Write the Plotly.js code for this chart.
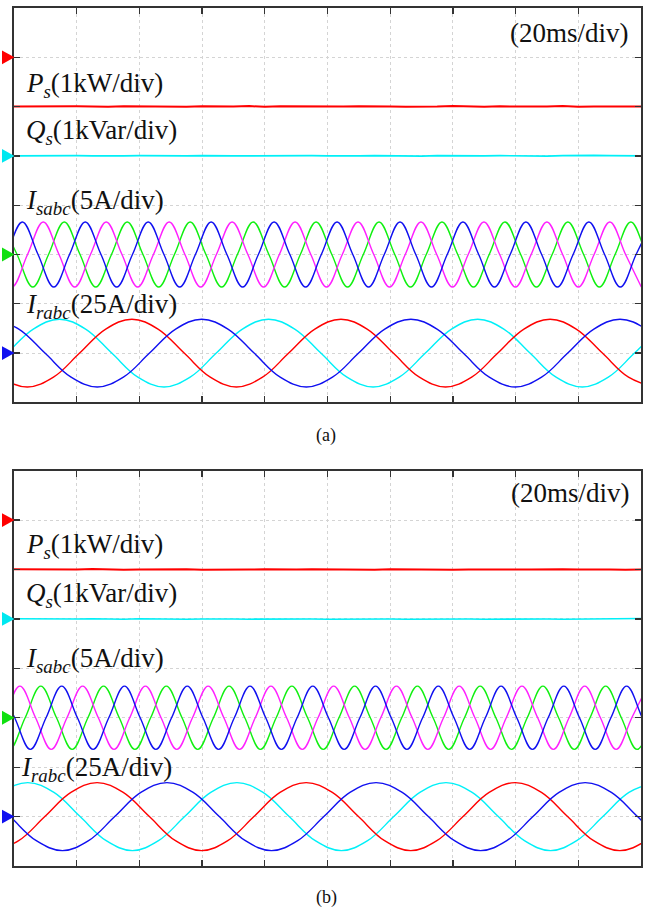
<!DOCTYPE html>
<html>
<head>
<meta charset="utf-8">
<script src="https://cdn.plot.ly/plotly-3.0.1.min.js"></script>
<style>html,body{margin:0;padding:0;background:#fff;}#chart{width:647px;height:909px;}</style>
</head>
<body>
<div id="chart"></div>
<script>
// ---------- data ----------
// time in ms (20 ms/div, 10 div)
const panels = ["(a)", "(b)"];
const timeDivTicks = 20;
// channel scales (units per division) and zero-reference levels (div from bottom)
const chScale = {Ps: 1, Qs: 1, Is: 5, Ir: 25};
const chRef = {Ps: 7, Qs: 5, Is: 3, Ir: 1};

// P_s (kW), Q_s (kVar) samples
const tPQ = [0,5,10,15,20,25,30,35,40,45,50,55,60,65,70,75,80,85,90,95,100,105,110,115,120,125,130,135,140,145,150,155,160,165,170,175,180,185,190,195,200];
const Ps_a = [-1.00,-0.995,-1.005,-1.00,-0.995,-1.00,-1.005,-0.995,-1.00,-0.99,-1.00,-1.005,-0.995,-1.00,-1.00,-0.99,-1.005,-0.995,-1.00,-0.995,-1.005,-1.00,-0.995,-0.99,-1.00,-1.005,-0.995,-1.00,-0.99,-1.00,-1.005,-0.995,-1.00,-0.995,-1.00,-0.99,-1.005,-1.00,-0.995,-1.00,-1.00];
const Qs_a = [0.00,0.005,-0.005,0.00,0.005,0.00,-0.005,0.00,0.005,0.00,-0.005,0.00,0.005,-0.005,0.00,0.00,0.005,-0.005,0.00,0.005,0.00,-0.005,0.00,0.005,0.00,0.00,-0.005,0.005,0.00,-0.005,0.00,0.005,0.00,0.00,-0.005,0.005,0.00,0.01,0.005,0.00,0.00];
const Ps_b = [-0.995,-1.00,-1.005,-0.995,-1.00,-0.99,-1.00,-1.005,-1.00,-0.995,-1.00,-0.995,-1.005,-1.00,-0.99,-1.00,-0.995,-1.005,-1.00,-0.995,-1.00,-0.99,-1.00,-1.005,-0.995,-1.00,-1.00,-0.995,-1.005,-1.00,-0.995,-0.99,-1.00,-1.00,-1.005,-0.995,-1.00,-0.995,-1.00,-1.005,-1.00];
const Qs_b = [0.005,0.00,-0.005,0.00,0.00,0.005,0.00,-0.005,0.005,0.00,0.00,-0.005,0.00,0.005,0.00,-0.005,0.00,0.00,0.005,0.00,-0.005,0.00,0.005,0.00,0.00,-0.005,0.00,0.005,0.005,0.00,-0.005,0.00,0.00,0.005,0.00,-0.005,0.00,0.005,0.01,0.005,0.01];

// stator currents (A): peaks / zero crossings / troughs, panel (a)
const Isb_a_t = [-7.39,-2.37,2.65,7.67,12.69,17.71,22.73,27.75,32.77,37.79,42.81,47.83,52.85,57.87,62.89,67.91,72.93,77.95,82.97,87.99,93.01,98.03,103.05,108.07,113.09,118.11,123.13,128.15,133.17,138.19,143.21,148.23,153.25,158.27,163.29,168.31,173.33,178.35,183.37,188.39,193.41,198.43,203.45];
const Isb_a_v = [-3.3,0,3.3,0,-3.3,0,3.3,0,-3.3,0,3.3,0,-3.3,0,3.3,0,-3.3,0,3.3,0,-3.3,0,3.3,0,-3.3,0,3.3,0,-3.3,0,3.3,0,-3.3,0,3.3,0,-3.3,0,3.3,0,-3.3,0,3.3];
const Ism_a_t = [-10.74,-5.72,-0.7,4.32,9.34,14.36,19.38,24.4,29.42,34.44,39.46,44.48,49.5,54.52,59.54,64.56,69.58,74.6,79.62,84.64,89.66,94.68,99.7,104.72,109.74,114.76,119.78,124.8,129.82,134.84,139.86,144.88,149.9,154.92,159.94,164.96,169.98,175.0,180.02,185.04,190.06,195.08,200.1];
const Ism_a_v = [3.3,0,-3.3,0,3.3,0,-3.3,0,3.3,0,-3.3,0,3.3,0,-3.3,0,3.3,0,-3.3,0,3.3,0,-3.3,0,3.3,0,-3.3,0,3.3,0,-3.3,0,3.3,0,-3.3,0,3.3,0,-3.3,0,3.3,0,-3.3];
const Isg_a_t = [-4.04,0.98,6.0,11.02,16.04,21.06,26.08,31.1,36.12,41.14,46.16,51.18,56.2,61.22,66.24,71.26,76.28,81.3,86.32,91.34,96.36,101.38,106.4,111.42,116.44,121.46,126.48,131.5,136.52,141.54,146.56,151.58,156.6,161.62,166.64,171.66,176.68,181.7,186.72,191.74,196.76,201.78,206.8];
const Isg_a_v = [3.3,0,-3.3,0,3.3,0,-3.3,0,3.3,0,-3.3,0,3.3,0,-3.3,0,3.3,0,-3.3,0,3.3,0,-3.3,0,3.3,0,-3.3,0,3.3,0,-3.3,0,3.3,0,-3.3,0,3.3,0,-3.3,0,3.3,0,-3.3];

// stator currents (A), panel (b)
const Isb_b_t = [-4.8,0.21,5.21,10.22,15.22,20.23,25.23,30.24,35.24,40.25,45.25,50.26,55.26,60.27,65.27,70.28,75.28,80.29,85.29,90.3,95.3,100.31,105.31,110.32,115.32,120.33,125.33,130.34,135.34,140.35,145.35,150.36,155.36,160.37,165.37,170.38,175.38,180.39,185.39,190.4,195.4,200.41,205.41];
const Isb_b_v = [3.2,0,-3.2,0,3.2,0,-3.2,0,3.2,0,-3.2,0,3.2,0,-3.2,0,3.2,0,-3.2,0,3.2,0,-3.2,0,3.2,0,-3.2,0,3.2,0,-3.2,0,3.2,0,-3.2,0,3.2,0,-3.2,0,3.2,0,-3.2];
const Ism_b_t = [-8.14,-3.13,1.87,6.88,11.88,16.89,21.89,26.9,31.9,36.91,41.91,46.92,51.92,56.93,61.93,66.94,71.94,76.95,81.95,86.96,91.96,96.97,101.97,106.98,111.98,116.99,121.99,127.0,132.0,137.01,142.01,147.02,152.02,157.03,162.03,167.04,172.04,177.05,182.05,187.06,192.06,197.07,202.07];
const Ism_b_v = [-3.2,0,3.2,0,-3.2,0,3.2,0,-3.2,0,3.2,0,-3.2,0,3.2,0,-3.2,0,3.2,0,-3.2,0,3.2,0,-3.2,0,3.2,0,-3.2,0,3.2,0,-3.2,0,3.2,0,-3.2,0,3.2,0,-3.2,0,3.2];
const Isg_b_t = [-6.46,-1.46,3.55,8.55,13.56,18.56,23.57,28.57,33.58,38.58,43.59,48.59,53.6,58.6,63.61,68.61,73.62,78.62,83.63,88.63,93.64,98.64,103.65,108.65,113.66,118.66,123.67,128.67,133.68,138.68,143.69,148.69,153.7,158.7,163.71,168.71,173.72,178.72,183.73,188.73,193.74,198.74,203.75];
const Isg_b_v = [0,-3.2,0,3.2,0,-3.2,0,3.2,0,-3.2,0,3.2,0,-3.2,0,3.2,0,-3.2,0,3.2,0,-3.2,0,3.2,0,-3.2,0,3.2,0,-3.2,0,3.2,0,-3.2,0,3.2,0,-3.2,0,3.2,0,-3.2,0];

// rotor currents (A), panel (a) - read every 1/8 period
const Irc_a_t = [-18.85,-10.51,-2.18,6.16,14.5,22.84,31.18,39.51,47.85,56.19,64.53,72.86,81.2,89.54,97.88,106.21,114.55,122.89,131.23,139.56,147.9,156.24,164.58,172.91,181.25,189.59,197.93,206.26,214.6];
const Irc_a_v = [-17.2,-12.2,0,12.2,17.2,12.2,0,-12.2,-17.2,-12.2,0,12.2,17.2,12.2,0,-12.2,-17.2,-12.2,0,12.2,17.2,12.2,0,-12.2,-17.2,-12.2,0,12.2,17.2];
const Irr_a_t = [-12.43,-4.09,4.25,12.59,20.93,29.26,37.6,45.94,54.28,62.61,70.95,79.29,87.63,95.96,104.3,112.64,120.98,129.31,137.65,145.99,154.33,162.66,171.0,179.34,187.68,196.01,204.35];
const Irr_a_v = [0,-12.2,-17.2,-12.2,0,12.2,17.2,12.2,0,-12.2,-17.2,-12.2,0,12.2,17.2,12.2,0,-12.2,-17.2,-12.2,0,12.2,17.2,12.2,0,-12.2,-17.2];
const Irb_a_t = [-6.8,1.54,9.88,18.21,26.55,34.89,43.23,51.56,59.9,68.24,76.58,84.91,93.25,101.59,109.93,118.26,126.6,134.94,143.28,151.61,159.95,168.29,176.63,184.96,193.3,201.64,209.98];
const Irb_a_v = [17.2,12.2,0,-12.2,-17.2,-12.2,0,12.2,17.2,12.2,0,-12.2,-17.2,-12.2,0,12.2,17.2,12.2,0,-12.2,-17.2,-12.2,0,12.2,17.2,12.2,0];

// rotor currents (A), panel (b)
const Irc_b_t = [-28.95,-20.62,-12.28,-3.94,4.4,12.74,21.08,29.41,37.75,46.09,54.43,62.76,71.1,79.44,87.78,96.11,104.45,112.79,121.13,129.46,137.8,146.14,154.48,162.81,171.15,179.49,187.83,196.16,204.5];
const Irc_b_v = [-17.2,-12.2,0,12.2,17.2,12.2,0,-12.2,-17.2,-12.2,0,12.2,17.2,12.2,0,-12.2,-17.2,-12.2,0,12.2,17.2,12.2,0,-12.2,-17.2,-12.2,0,12.2,17.2];
const Irr_b_t = [-6.85,1.49,9.83,18.16,26.5,34.84,43.18,51.51,59.85,68.19,76.53,84.86,93.2,101.54,109.88,118.21,126.55,134.89,143.23,151.56,159.9,168.24,176.58,184.91,193.25,201.59,209.93];
const Irr_b_v = [-17.2,-12.2,0,12.2,17.2,12.2,0,-12.2,-17.2,-12.2,0,12.2,17.2,12.2,0,-12.2,-17.2,-12.2,0,12.2,17.2,12.2,0,-12.2,-17.2,-12.2,0];
const Irb_b_t = [-17.9,-9.57,-1.23,7.11,15.45,23.79,32.13,40.46,48.8,57.14,65.48,73.81,82.15,90.49,98.83,107.16,115.5,123.84,132.18,140.51,148.85,157.19,165.53,173.86,182.2,190.54,198.88,207.21,215.55];
const Irb_b_v = [17.2,12.2,0,-12.2,-17.2,-12.2,0,12.2,17.2,12.2,0,-12.2,-17.2,-12.2,0,12.2,17.2,12.2,0,-12.2,-17.2,-12.2,0,12.2,17.2,12.2,0,-12.2,-17.2];

// labels
const lblTime = "(20ms/div)";
const lblPs = "<i>P</i><sub><i>s</i></sub>(1kW/div)";
const lblQs = "<i>Q</i><sub><i>s</i></sub>(1kVar/div)";
const lblIs = "<i>I</i><sub><i>sabc</i></sub>(5A/div)";
const lblIr = "<i>I</i><sub><i>rabc</i></sub>(25A/div)";

// ---------- drawing ----------
const W = 647, H = 909;
const px = x => x / W, py = y => 1 - y / H;
const RED = "#ff0000", CYAN = "#00f0f8", GREEN = "#10f010", MAG = "#ff20ff", BLUE = "#1010f0";

function wave(t, v, ch, color, width, xa, ya, shape) {
  return {
    type: "scatter", mode: "lines", x: t,
    y: v.map(val => chRef[ch] + val / chScale[ch]),
    line: {color: color, width: width, shape: shape || "linear", smoothing: 1.1},
    xaxis: xa, yaxis: ya, hoverinfo: "skip", showlegend: false
  };
}
// channel reference (ground) markers, left of the frame
function refTri(yref, level, color) {
  const h = 0.14; // half-height in divisions
  return {type: "path", xref: "paper", yref: yref, layer: "above",
    path: "M " + px(2) + "," + (level + h) + " L " + px(14.5) + "," + level + " L " + px(2) + "," + (level - h) + " Z",
    fillcolor: color, line: {width: 0}};
}

const traces = [
  wave(tPQ, Ps_a, "Ps", RED, 2, "x", "y"),
  wave(tPQ, Qs_a, "Qs", CYAN, 1.6, "x", "y"),
  wave(Isg_a_t, Isg_a_v, "Is", GREEN, 1.4, "x", "y", "spline"),
  wave(Ism_a_t, Ism_a_v, "Is", MAG, 1.4, "x", "y", "spline"),
  wave(Isb_a_t, Isb_a_v, "Is", BLUE, 1.4, "x", "y", "spline"),
  wave(Irc_a_t, Irc_a_v, "Ir", CYAN, 1.4, "x", "y", "spline"),
  wave(Irr_a_t, Irr_a_v, "Ir", RED, 1.4, "x", "y", "spline"),
  wave(Irb_a_t, Irb_a_v, "Ir", BLUE, 1.4, "x", "y", "spline"),
  wave(tPQ, Ps_b, "Ps", RED, 2, "x2", "y2"),
  wave(tPQ, Qs_b, "Qs", CYAN, 1.6, "x2", "y2"),
  wave(Isg_b_t, Isg_b_v, "Is", GREEN, 1.4, "x2", "y2", "spline"),
  wave(Ism_b_t, Ism_b_v, "Is", MAG, 1.4, "x2", "y2", "spline"),
  wave(Isb_b_t, Isb_b_v, "Is", BLUE, 1.4, "x2", "y2", "spline"),
  wave(Irc_b_t, Irc_b_v, "Ir", CYAN, 1.4, "x2", "y2", "spline"),
  wave(Irr_b_t, Irr_b_v, "Ir", RED, 1.4, "x2", "y2", "spline"),
  wave(Irb_b_t, Irb_b_v, "Ir", BLUE, 1.4, "x2", "y2", "spline")
];

function xax(anchor) {
  return {domain: [px(14), px(641)], range: [0, 200], dtick: timeDivTicks, tick0: 0,
    showgrid: true, gridcolor: "#d4d4d4", griddash: "dot", gridwidth: 1,
    ticks: "inside", ticklen: 6, tickwidth: 1.3, tickcolor: "#333",
    showline: true, linecolor: "#333", linewidth: 1.6, mirror: "ticks",
    showticklabels: false, zeroline: false, anchor: anchor, fixedrange: true};
}
function yax(top, bottom, anchor) {
  return {domain: [py(bottom), py(top)], range: [0, 8], dtick: 1, tick0: 0,
    showgrid: true, gridcolor: "#d4d4d4", griddash: "dot", gridwidth: 1,
    ticks: "inside", ticklen: 6, tickwidth: 1.3, tickcolor: "#333",
    showline: true, linecolor: "#333", linewidth: 1.6, mirror: "ticks",
    showticklabels: false, zeroline: false, anchor: anchor, fixedrange: true};
}

const F = {family: "Liberation Serif, Times New Roman, serif", size: 27, color: "#111"};
function ann(text, x, y, xanchor, font) {
  return {text: text, x: px(x), y: py(y), xref: "paper", yref: "paper",
    xanchor: xanchor, yanchor: "middle", showarrow: false, font: font || F};
}
const capF = {family: "Liberation Serif, Times New Roman, serif", size: 18, color: "#111"};

const layout = {
  width: W, height: H, margin: {l: 0, r: 0, t: 0, b: 0},
  paper_bgcolor: "#fff", plot_bgcolor: "#fff", showlegend: false,
  xaxis: xax("y"), yaxis: yax(8, 402.4, "x"),
  xaxis2: xax("y2"), yaxis2: yax(470.7, 866, "x2"),
  shapes: [
    refTri("y", chRef.Ps, RED), refTri("y", chRef.Qs, "#00e8f0"),
    refTri("y", chRef.Is, "#10e010"), refTri("y", chRef.Ir, BLUE),
    refTri("y2", chRef.Ps, RED), refTri("y2", chRef.Qs, "#00e8f0"),
    refTri("y2", chRef.Is, "#10e010"), refTri("y2", chRef.Ir, BLUE)
  ],
  annotations: [
    ann(lblTime, 631, 33, "right"),
    ann(lblPs, 24, 85, "left"),
    ann(lblQs, 24, 132, "left"),
    ann(lblIs, 24, 202, "left"),
    ann(lblIr, 24, 306, "left"),
    ann(panels[0], 326, 435, "center", capF),
    ann(lblTime, 632, 493, "right"),
    ann(lblPs, 24, 546, "left"),
    ann(lblQs, 24, 595, "left"),
    ann(lblIs, 24, 660, "left"),
    ann(lblIr, 19, 769, "left"),
    ann(panels[1], 326, 897, "center", capF)
  ]
};

Plotly.newPlot("chart", traces, layout, {staticPlot: true, displayModeBar: false});
</script>
</body>
</html>
